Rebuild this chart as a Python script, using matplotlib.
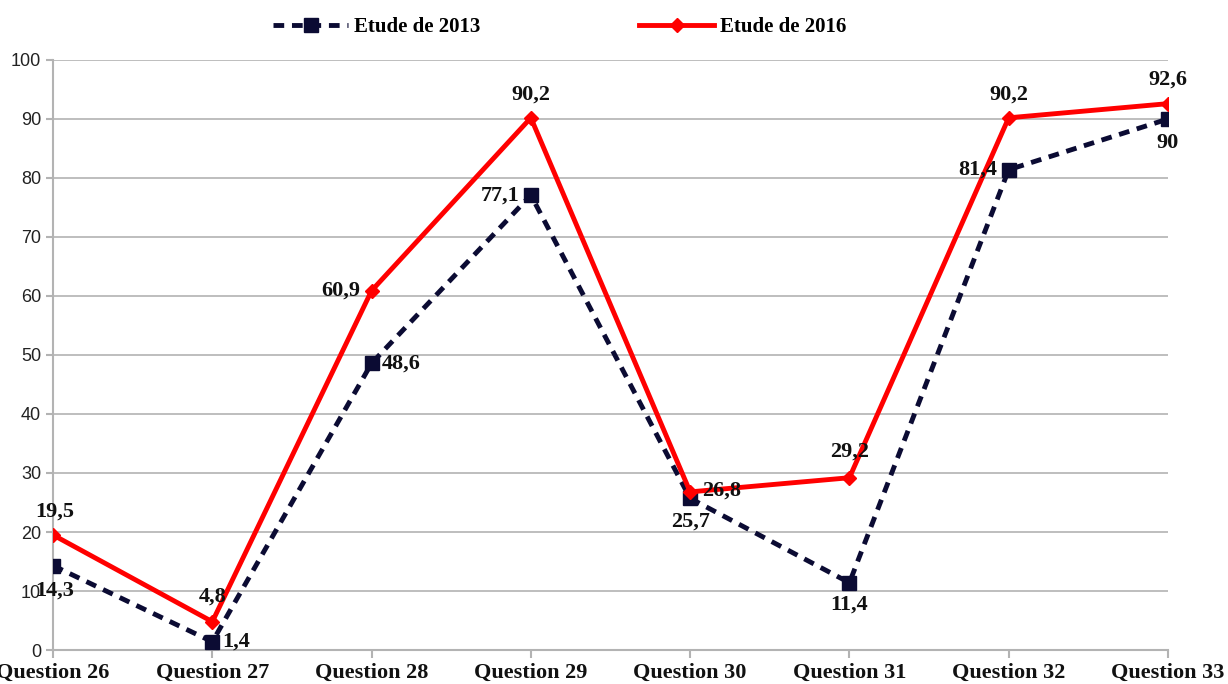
import matplotlib.pyplot as plt
import numpy as np

categories = ["Question 26", "Question 27", "Question 28", "Question 29",
              "Question 30", "Question 31", "Question 32", "Question 33"]
etude_2013 = [14.3, 1.4, 48.6, 77.1, 25.7, 11.4, 81.4, 90]
etude_2016 = [19.5, 4.8, 60.9, 90.2, 26.8, 29.2, 90.2, 92.6]

# decalage des etiquettes (points)
off_2013 = [(1, -18), (17, 0), (21, 0), (-22, 0), (0, -17), (0, -16), (-22, 0), (0, -17)]
off_2016 = [(1, 17), (0, 18), (-22, 0), (0, 17), (23, 1), (0, 19), (0, 17), (0, 17)]

def fmt(v):
    return ("%g" % v).replace(".", ",")

fig = plt.figure(figsize=(12.28, 6.84), dpi=100)
ax = fig.add_axes([0.0432, 0.0497, 0.9079, 0.8626])
x = np.arange(len(categories))

ax.plot(x, etude_2013, color="#0b0b33", linestyle=(0, (2.2, 1.6)), linewidth=3.5,
        marker="s", markersize=10, label="Etude de 2013", zorder=3)
ax.plot(x, etude_2016, color="#ff0000", linewidth=3.5,
        marker="D", markersize=7, label="Etude de 2016", zorder=4)

lab_font = dict(family="Liberation Serif", weight="bold", size=16, color="#111111")
for i, v in enumerate(etude_2013):
    ax.annotate(fmt(v), (x[i], v), xytext=off_2013[i], textcoords="offset points",
                ha="center", va="center", zorder=6, **lab_font)
for i, v in enumerate(etude_2016):
    ax.annotate(fmt(v), (x[i], v), xytext=off_2016[i], textcoords="offset points",
                ha="center", va="center", zorder=6, **lab_font)

ax.set_xlim(0, len(categories) - 1)
ax.set_ylim(0, 100)
ax.set_yticks(np.arange(0, 101, 10))
ax.set_xticks(x)
ax.set_xticklabels(categories, fontfamily="Liberation Serif", fontweight="bold", fontsize=16)
ax.tick_params(axis="y", labelsize=13, colors="#b3b3b3", labelcolor="#222222", length=5, width=1.5)
ax.tick_params(axis="x", colors="#b3b3b3", labelcolor="#111111", length=6, width=1.5, pad=3)
for lbl in ax.get_yticklabels():
    lbl.set_fontfamily("Liberation Sans")
ax.grid(axis="y", color="#b3b3b3", linewidth=1.2)
ax.set_axisbelow(True)
for s in ["top", "right"]:
    ax.spines[s].set_visible(False)
ax.spines["left"].set_color("#b3b3b3")
ax.spines["left"].set_linewidth(1.5)
ax.spines["bottom"].set_color("#b3b3b3")
ax.spines["bottom"].set_linewidth(1.5)

fig.legend(loc="center", bbox_to_anchor=(0.456, 0.96), ncol=2, frameon=False,
           prop=dict(family="Liberation Serif", weight="bold", size=15),
           handlelength=3.6, columnspacing=7.6, handletextpad=0.3)

plt.savefig("out.png", dpi=100)
